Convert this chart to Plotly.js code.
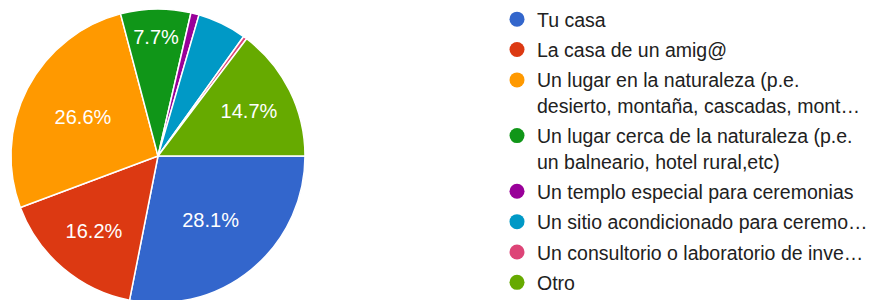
<!DOCTYPE html>
<html><head><meta charset="utf-8">
<script src="https://cdn.plot.ly/plotly-3.0.1.min.js"></script>
<style>html,body{margin:0;padding:0;overflow:hidden;background:#fff}#chart{width:875px;height:306px}</style>
</head><body><div id="chart"></div>
<script>
const categories = [
  "Tu casa",
  "La casa de un amig@",
  "Un lugar en la naturaleza (p.e.<br>desierto, montaña, cascadas, mont…",
  "Un lugar cerca de la naturaleza (p.e.<br>un balneario, hotel rural,etc)",
  "Un templo especial para ceremonias",
  "Un sitio acondicionado para ceremo…",
  "Un consultorio o laboratorio de inve…",
  "Otro"
];
const shares = [28.1, 16.2, 26.6, 7.7, 0.9, 5.4, 0.4, 14.7];
const colors = ["#3366cc", "#dc3912", "#ff9900", "#109618", "#990099", "#0099c6", "#dd4477", "#66aa00"];

const FONT = "Liberation Sans, Arial, Helvetica, sans-serif";
const labelText = shares.map(v => v >= 7 ? v.toFixed(1) + "%" : "");

const pie = {
  type: "pie",
  labels: categories,
  values: shares,
  sort: false,
  direction: "clockwise",
  rotation: 90,
  text: labelText,
  textinfo: "text",
  textposition: "inside",
  insidetextorientation: "horizontal",
  textfont: {family: FONT, size: 20, color: "#ffffff"},
  marker: {colors: colors, line: {color: "#ffffff", width: 1.5}},
  showlegend: false,
  hoverinfo: "none",
  domain: {x: [11/875, 305/875], y: [3/306, 297/306]}
};

const legendTraces = categories.map((c, i) => ({
  type: "scatter",
  mode: "markers",
  x: [null], y: [null],
  name: c,
  legendgroup: "g" + i,
  marker: {color: colors[i], size: 15, symbol: "circle"},
  showlegend: true,
  hoverinfo: "none"
}));

const layout = {
  width: 875, height: 306,
  margin: {l: 0, r: 0, t: 0, b: 0},
  paper_bgcolor: "#ffffff",
  plot_bgcolor: "#ffffff",
  xaxis: {visible: false},
  yaxis: {visible: false},
  showlegend: true,
  legend: {
    x: 497/875, xanchor: "left",
    y: 1.0, yanchor: "top",
    font: {family: FONT, size: 19.5, color: "#212121"},
    tracegroupgap: 2,
    valign: "top",
    bgcolor: "rgba(0,0,0,0)"
  }
};

Plotly.newPlot("chart", [pie].concat(legendTraces), layout, {staticPlot: true, displayModeBar: false});
</script>
</body></html>
